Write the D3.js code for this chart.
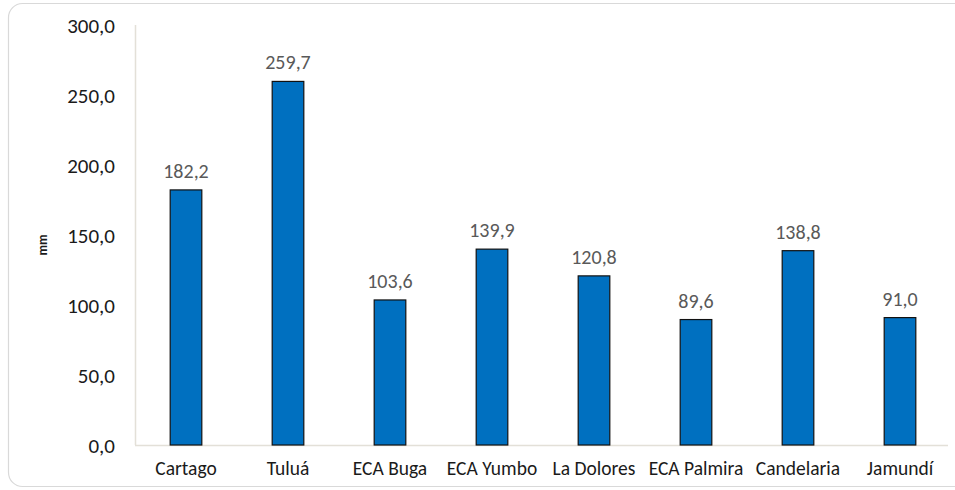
<!DOCTYPE html>
<html><head><meta charset="utf-8">
<script src="https://cdn.jsdelivr.net/npm/d3@7"></script>
<style>
body{margin:0;background:#fff;}
svg text{font-family:Calibri,Carlito,"Open Sans",sans-serif;}
</style></head>
<body><svg id="c" width="955" height="490"></svg>
<script>
const categories=["Cartago","Tuluá","ECA Buga","ECA Yumbo","La Dolores","ECA Palmira","Candelaria","Jamundí"];
const values=[182.2,259.7,103.6,139.9,120.8,89.6,138.8,91.0];
const yTicks=[0,50,100,150,200,250,300];
const yLabel="mm";

const svg=d3.select("#c");
svg.append("rect").attr("x",8.5).attr("y",3.5).attr("width",1000).attr("height",483)
  .attr("rx",14).attr("fill","#fff").attr("stroke","#d9d9d9").attr("stroke-width",1.2);

const x0=135,x1=951,yTop=25,yBot=445;
const x=d3.scaleBand().domain(categories).range([x0,x1]).paddingInner(0.69).paddingOuter(0.345);
const y=d3.scaleLinear().domain([0,300]).range([yBot,yTop]);
const fmt=v=>d3.format(".1f")(v).replace(".",",");

svg.append("line").attr("x1",x0+0.5).attr("x2",x0+0.5).attr("y1",yTop).attr("y2",yBot)
  .attr("stroke","#e3e0d8").attr("stroke-width",1.5);
svg.append("line").attr("x1",x0).attr("x2",948).attr("y1",yBot+0.5).attr("y2",yBot+0.5)
  .attr("stroke","#e3e0d8").attr("stroke-width",1.5);

const yAxis=d3.axisLeft(y).tickValues(yTicks).tickFormat(fmt).tickSize(0).tickPadding(0);
const gy=svg.append("g").attr("transform",`translate(115,0)`).call(yAxis);
gy.select(".domain").remove();
gy.selectAll("text").attr("font-size",21).attr("fill","#1a1a1a").attr("dy","0.35em");

const xAxis=d3.axisBottom(x).tickSize(0).tickPadding(0);
const gx=svg.append("g").attr("transform",`translate(0,${yBot+16})`).call(xAxis);
gx.select(".domain").remove();
gx.selectAll("text").attr("font-size",19.5).attr("fill","#1a1a1a").attr("dy","0.71em");

svg.selectAll("rect.bar").data(values).join("rect").attr("class","bar")
  .attr("x",(d,i)=>x(categories[i])).attr("width",x.bandwidth())
  .attr("y",d=>y(d)).attr("height",d=>yBot-y(d))
  .attr("fill","#0070c0").attr("stroke","#111").attr("stroke-width",1.2);

svg.selectAll("text.lbl").data(values).join("text").attr("class","lbl")
  .attr("x",(d,i)=>x(categories[i])+x.bandwidth()/2).attr("y",d=>y(d)-12)
  .attr("text-anchor","middle").attr("font-size",20).attr("fill","#595959").text(fmt);

svg.append("text").attr("transform","translate(47,245) rotate(-90)").attr("text-anchor","middle")
  .attr("font-size",13).attr("font-weight","bold").attr("fill","#1a1a1a").text(yLabel);
</script></body></html>
